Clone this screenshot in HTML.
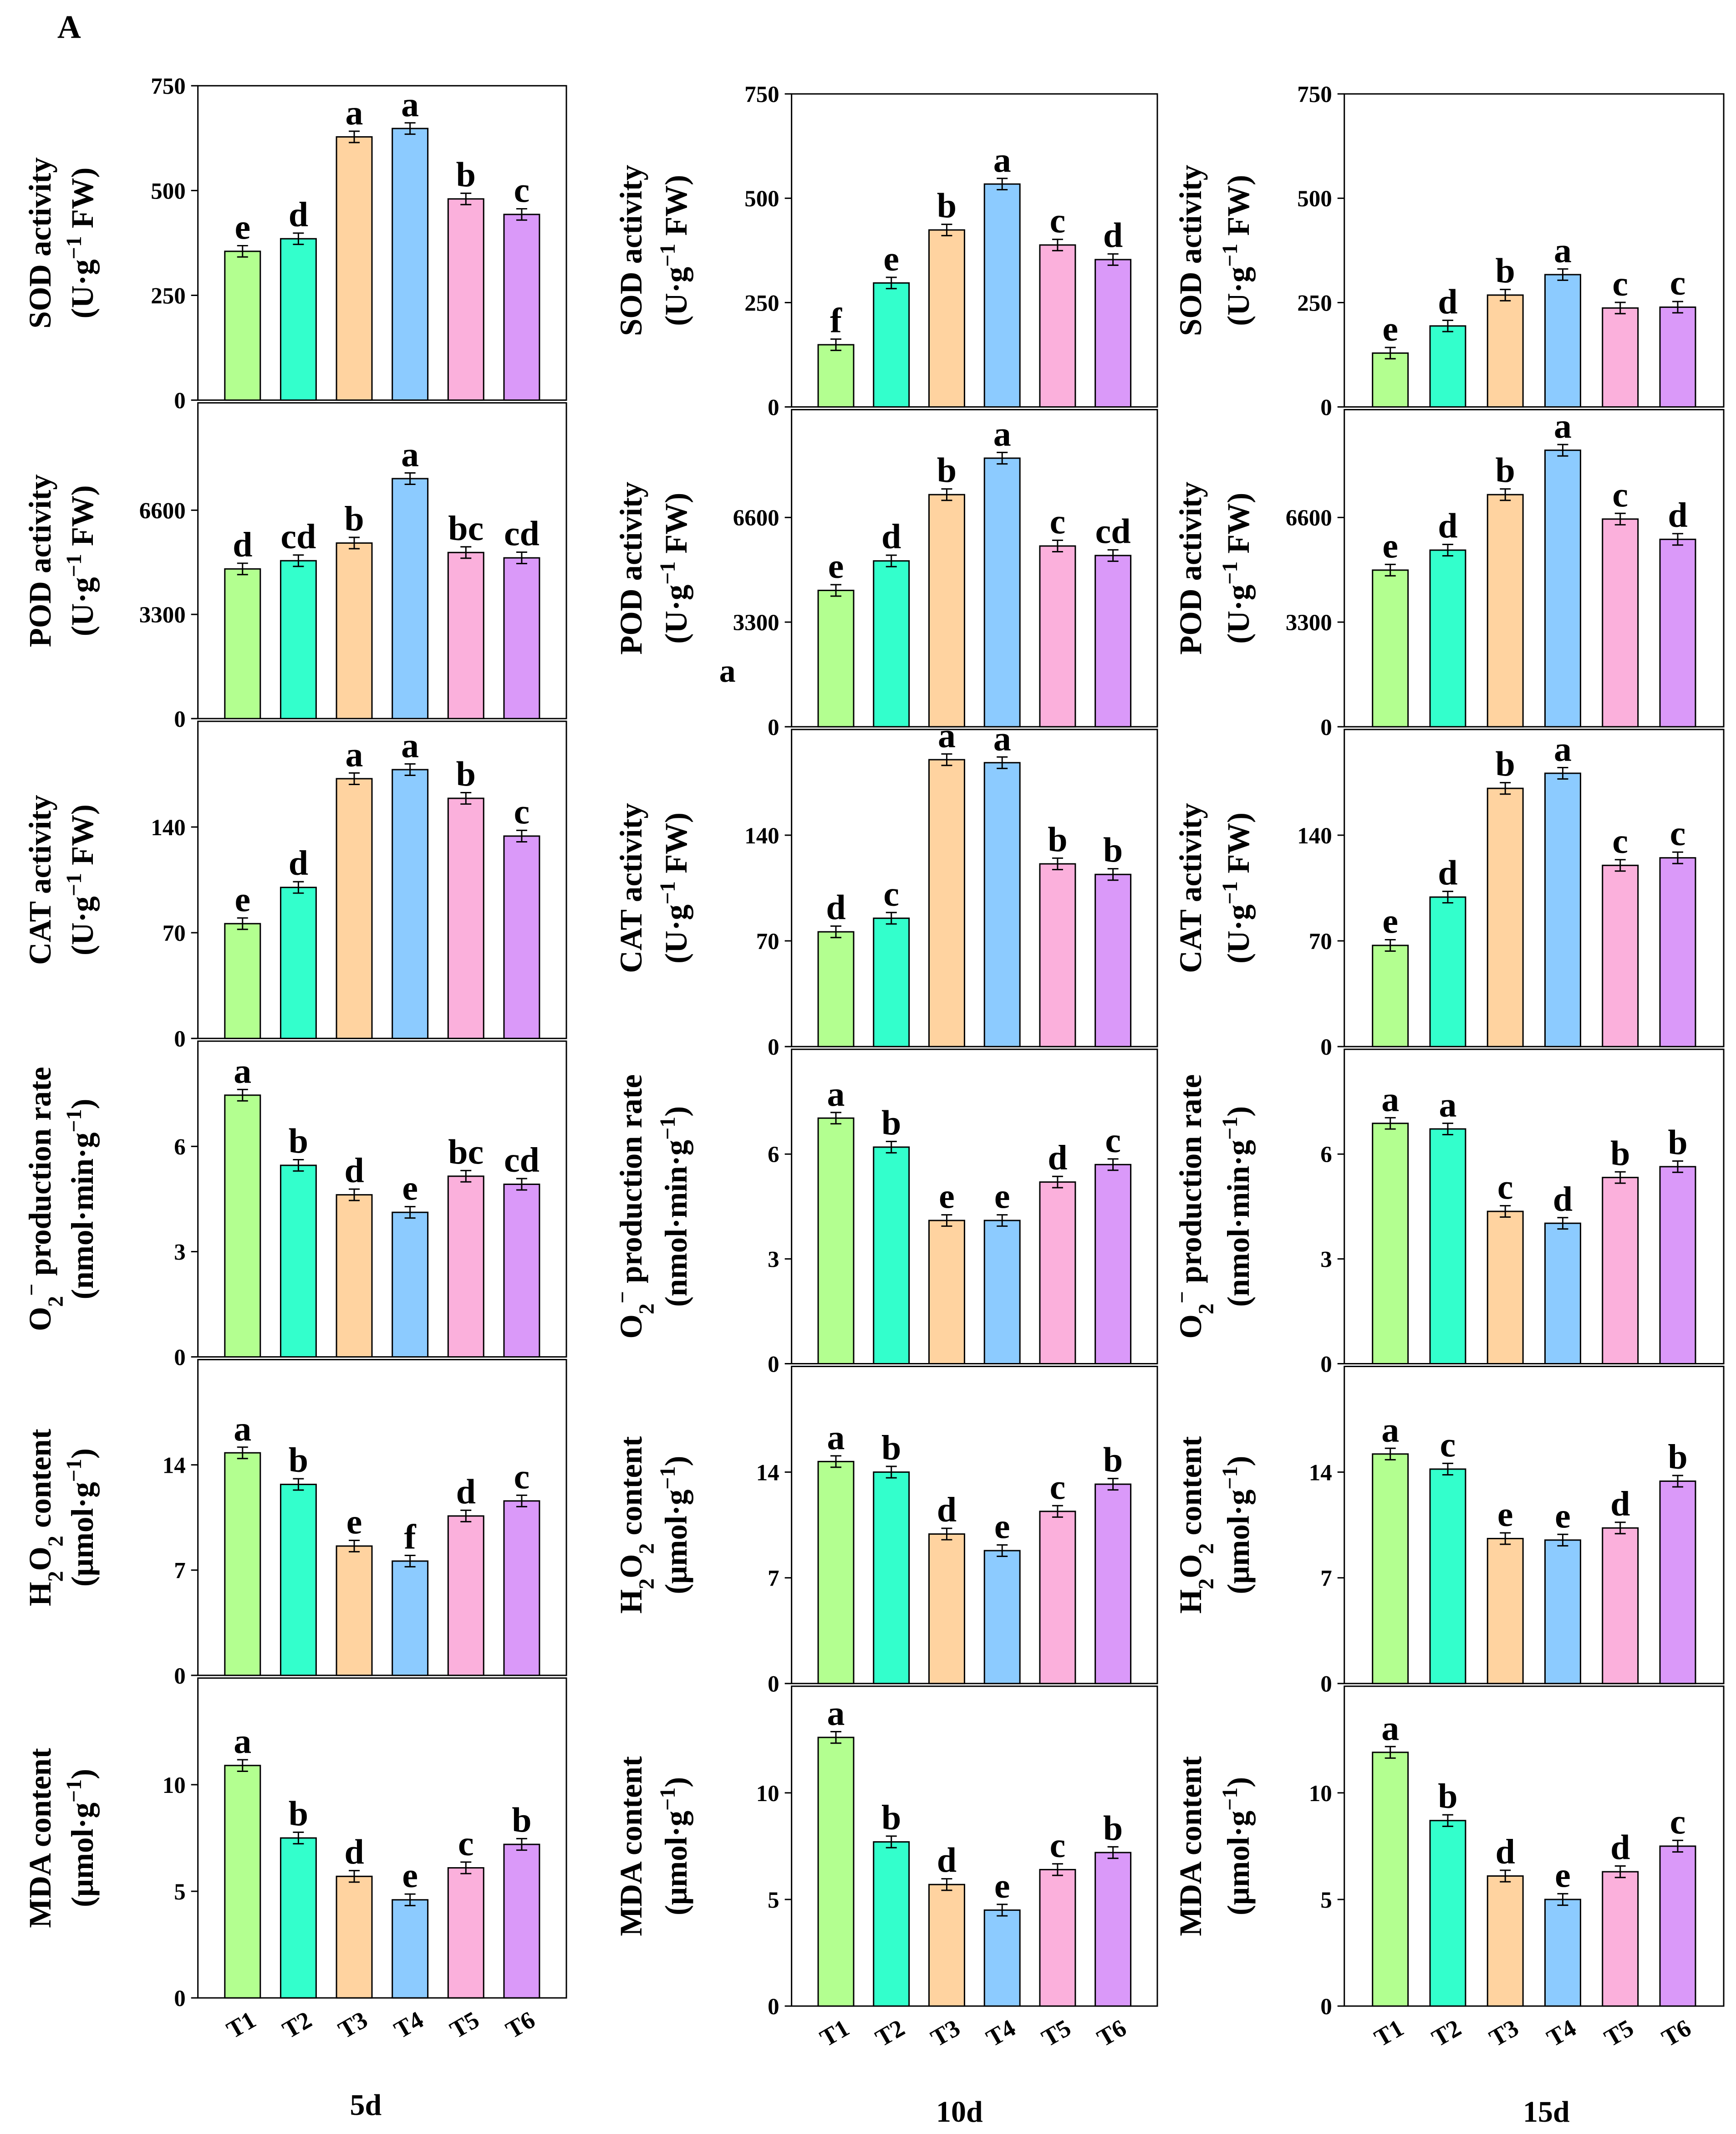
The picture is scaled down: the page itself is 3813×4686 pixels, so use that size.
<!DOCTYPE html>
<html><head><meta charset="utf-8"><style>
html,body{margin:0;padding:0;background:#fff}
svg{display:block}
text{font-family:"Liberation Serif",serif;font-weight:bold;fill:#000}
</style></head><body>
<svg id="fig" width="3813" height="4686" viewBox="0 0 1272 1568" preserveAspectRatio="none" xmlns="http://www.w3.org/2000/svg">
<text x="42" y="28" font-size="24" font-weight="normal">A</text>
<text x="268" y="1554" font-size="22" text-anchor="middle">5d</text>
<text x="703" y="1559" font-size="22" text-anchor="middle">10d</text>
<text x="1133" y="1559" font-size="22" text-anchor="middle">15d</text>
<text x="527" y="501" font-size="24">a</text>
</svg>
<script>
const categories = ["T1","T2","T3","T4","T5","T6"];
const barColors = ["#b3ff90","#33ffcc","#ffd3a0","#8ccbff","#fbb0dc","#da99f9"];

const sod5 = [355,385,628,648,480,443];
const sod10 = [149,297,424,534,388,353];
const sod15 = [129,194,268,317,237,239];
const sodLetters5 = ["e","d","a","a","b","c"];
const sodLetters10 = ["f","e","b","a","c","d"];
const sodLetters15 = ["e","d","b","a","c","c"];

const pod5 = [4740,5000,5560,7600,5260,5090];
const pod10 = [4300,5230,7320,8470,5700,5400];
const pod15 = [4940,5570,7320,8720,6550,5910];
const podLetters5 = ["d","cd","b","a","bc","cd"];
const podLetters10 = ["e","d","b","a","c","cd"];
const podLetters15 = ["e","d","b","a","c","d"];

const cat5 = [76,100,172,178,159,134];
const cat10 = [76,85,190,188,121,114];
const cat15 = [67,99,171,181,120,125];
const catLetters5 = ["e","d","a","a","b","c"];
const catLetters10 = ["d","c","a","a","b","b"];
const catLetters15 = ["e","d","b","a","c","c"];

const o2_5 = [7.46,5.46,4.62,4.12,5.15,4.92];
const o2_10 = [7.03,6.2,4.1,4.1,5.2,5.7];
const o2_15 = [6.88,6.72,4.36,4.02,5.33,5.64];
const o2Letters5 = ["a","b","d","e","bc","cd"];
const o2Letters10 = ["a","b","e","e","d","c"];
const o2Letters15 = ["a","a","c","d","b","b"];

const h2o2_5 = [14.8,12.7,8.6,7.6,10.6,11.6];
const h2o2_10 = [14.7,14.0,9.9,8.8,11.4,13.2];
const h2o2_15 = [15.2,14.2,9.6,9.5,10.3,13.4];
const h2o2Letters5 = ["a","b","e","f","d","c"];
const h2o2Letters10 = ["a","b","d","e","c","b"];
const h2o2Letters15 = ["a","c","e","e","d","b"];

const mda5 = [10.9,7.5,5.7,4.6,6.1,7.2];
const mda10 = [12.6,7.7,5.7,4.5,6.4,7.2];
const mda15 = [11.9,8.7,6.1,5.0,6.3,7.5];
const mdaLetters5 = ["a","b","d","e","c","b"];
const mdaLetters10 = ["a","b","d","e","c","b"];
const mdaLetters15 = ["a","b","d","e","d","c"];

const sodTicks = [0,250,500,750];
const podTicks = [0,3300,6600];
const catTicks = [0,70,140];
const o2Ticks = [0,3,6];
const h2o2Ticks = [0,7,14];
const mdaTicks = [0,5,10];
const axisMax = [750,10000,210,9,21,15];

const NS = "http://www.w3.org/2000/svg";
const svg = document.getElementById("fig");
function mk(tag, attrs, parent){
  const e = document.createElementNS(NS, tag);
  for (const k in attrs) e.setAttribute(k, attrs[k]);
  (parent||svg).appendChild(e);
  return e;
}
const cols = [
  {x0:145,x1:415,rows:[63,296,530,765,999,1233,1468],lab:[37,68],xt:1487},
  {x0:580,x1:848,rows:[69,301,536,771,1004,1239,1474],lab:[470,503],xt:1493},
  {x0:985,x1:1263,rows:[69,301,536,771,1004,1239,1474],lab:[880,915],xt:1493}
];
const rowsData = [
  {vals:[sod5,sod10,sod15],lets:[sodLetters5,sodLetters10,sodLetters15],ticks:sodTicks,name:"sod",l1:"SOD activity",l2:"u"},
  {vals:[pod5,pod10,pod15],lets:[podLetters5,podLetters10,podLetters15],ticks:podTicks,name:"pod",l1:"POD activity",l2:"u"},
  {vals:[cat5,cat10,cat15],lets:[catLetters5,catLetters10,catLetters15],ticks:catTicks,name:"cat",l1:"CAT activity",l2:"u"},
  {vals:[o2_5,o2_10,o2_15],lets:[o2Letters5,o2Letters10,o2Letters15],ticks:o2Ticks,name:"o2",l1:"o2",l2:"nmol"},
  {vals:[h2o2_5,h2o2_10,h2o2_15],lets:[h2o2Letters5,h2o2Letters10,h2o2Letters15],ticks:h2o2Ticks,name:"h2o2",l1:"h2o2",l2:"umol"},
  {vals:[mda5,mda10,mda15],lets:[mdaLetters5,mdaLetters10,mdaLetters15],ticks:mdaTicks,name:"mda",l1:"MDA content",l2:"umol"}
];
const days = ["5d","10d","15d"];

function setLine1(t, kind){
  if (kind==="o2"){
    t.innerHTML = 'O<tspan baseline-shift="sub" font-size="16">2</tspan><tspan baseline-shift="super" font-size="16">−</tspan> production rate';
  } else if (kind==="h2o2"){
    t.innerHTML = 'H<tspan baseline-shift="sub" font-size="16">2</tspan>O<tspan baseline-shift="sub" font-size="16">2</tspan> content';
  } else t.textContent = kind;
}
function setLine2(t, kind){
  const sup = '<tspan baseline-shift="super" font-size="16">−1</tspan>';
  if (kind==="u") t.innerHTML = '(U·g'+sup+' FW)';
  else if (kind==="nmol") t.innerHTML = '(nmol·min·g'+sup+')';
  else t.innerHTML = '(μmol·g'+sup+')';
}

cols.forEach((c, ci) => {
  const bw = 26;
  const step = (c.x1 - c.x0) / 6.6;
  const xc = i => c.x0 + step*(0.8 + i);
  rowsData.forEach((r, ri) => {
    const top = c.rows[ri], bot = c.rows[ri+1] - (ri<5?2:0);
    const max = axisMax[ri];
    const y = v => bot - (v/max)*(bot-top);
    const g = mk("g", {});
    
    
    const frame = mk("rect", {x:c.x0,y:top,width:c.x1-c.x0,height:bot-top,fill:"none",stroke:"#000","stroke-width":1}, g);
    
    
    r.ticks.forEach(tv => {
      if (tv>=max && ri>0) return;
      mk("line",{x1:c.x0-5,x2:c.x0,y1:y(tv),y2:y(tv),stroke:"#000","stroke-width":1},g);
      const tl = mk("text",{x:c.x0-9,y:y(tv)+6,"font-size":17,"text-anchor":"end"},g);
      tl.textContent = tv;
      
      
    });
    const vals = r.vals[ci], lets = r.lets[ci];
    vals.forEach((v, i) => {
      const b = mk("rect",{x:xc(i)-bw/2,y:y(v),width:bw,height:bot-y(v),fill:barColors[i],stroke:"#000","stroke-width":1},g);
      
      
      const e = max*0.018;
      mk("line",{x1:xc(i),x2:xc(i),y1:y(v+e),y2:y(v-e),stroke:"#000","stroke-width":1},g);
      mk("line",{x1:xc(i)-4,x2:xc(i)+4,y1:y(v+e),y2:y(v+e),stroke:"#000","stroke-width":1},g);
      mk("line",{x1:xc(i)-4,x2:xc(i)+4,y1:y(v-e),y2:y(v-e),stroke:"#000","stroke-width":1},g);
      const lt = mk("text",{x:xc(i),y:y(v+e)-5,"font-size":26,"text-anchor":"middle"},g);
      lt.textContent = lets[i];
      
      
    });
    const cy = (top+bot)/2;
    const t1 = mk("text",{x:c.lab[0],y:cy,"font-size":23,"text-anchor":"middle",transform:"rotate(-90 "+c.lab[0]+" "+cy+")"},g);
    if (r.l1==="o2"||r.l1==="h2o2") setLine1(t1,r.l1); else t1.textContent = r.l1;
    
    
    const t2 = mk("text",{x:c.lab[1],y:cy,"font-size":23,"text-anchor":"middle",transform:"rotate(-90 "+c.lab[1]+" "+cy+")"},g);
    setLine2(t2, r.l2);
    
    
    if (ri===5){
      categories.forEach((cat, i) => {
        const tx = xc(i)+2, ty = c.xt+6;
        const xl = mk("text",{x:tx,y:ty,"font-size":18,"text-anchor":"middle",transform:"rotate(-30 "+tx+" "+ty+")"},g);
        xl.textContent = cat;
        
        
      });
    }
  });
});
</script>
</body></html>
